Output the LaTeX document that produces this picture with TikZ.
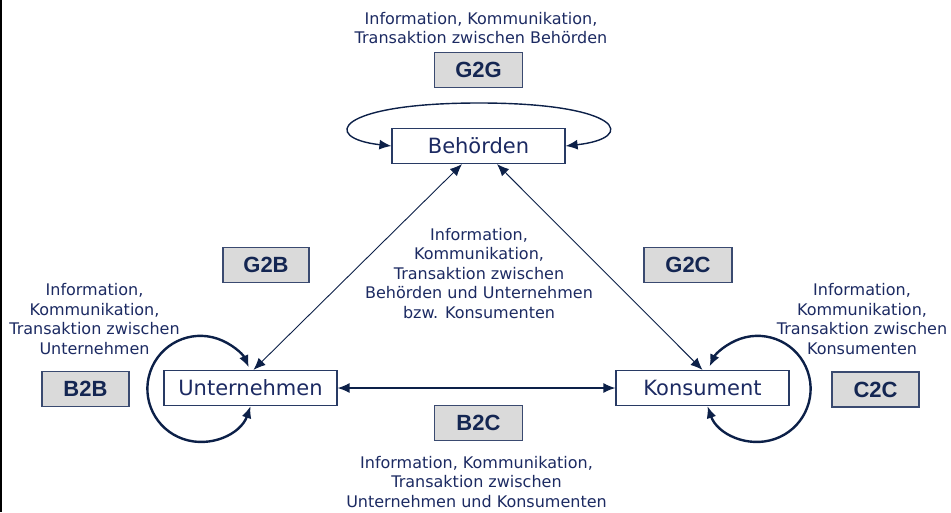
\documentclass[tikz,border=0pt]{standalone}
\usepackage{fontspec}
\setmainfont{DejaVu Sans}
\newfontfamily\labelfont{Liberation Sans}
\usetikzlibrary{arrows.meta}
\definecolor{txtnavy}{RGB}{28,42,98}
\definecolor{arrnavy}{RGB}{12,32,72}
\definecolor{boxedge}{RGB}{40,58,100}
\definecolor{lblfill}{RGB}{218,218,218}
\definecolor{lbledge}{RGB}{58,74,112}
\definecolor{lbltext}{RGB}{20,38,82}
\tikzset{
  entity/.style={draw=boxedge, line width=1.2pt, fill=white, minimum width=173pt, minimum height=35pt, inner sep=0pt, text=txtnavy, font=\fontsize{21}{24}\selectfont},
  tag/.style={draw=lbledge, line width=1.4pt, fill=lblfill, minimum width=88pt, minimum height=35pt, inner sep=0pt, text=lbltext, font=\labelfont\bfseries\fontsize{22}{24}\selectfont},
  note/.style={align=center, inner sep=0pt, text=txtnavy, font=\fontsize{16}{19.5}\selectfont},
  tip/.style={-{Latex[length=12pt,width=10pt]}},
  dtip/.style={{Latex[length=12pt,width=10pt]}-{Latex[length=12pt,width=10pt]}},
}
\begin{document}
\begin{tikzpicture}[x=1pt,y=-1pt]
\useasboundingbox (0,0) rectangle (951,512);
\draw[black, line width=2pt] (1,0) -- (1,512);

% entities
\node[entity] (beh) at (478.5,146) {Behörden};
\node[entity] (unt) at (250.5,388) {Unternehmen};
\node[entity] (kon) at (702.5,388) {Konsument};

% tags
\node[tag] (g2g) at (478.5,70) {G2G};
\node[tag, minimum width=86pt] (g2b) at (266,265) {G2B};
\node[tag] (g2c) at (688,265) {G2C};
\node[tag, minimum width=87pt] (b2b) at (85.5,389) {B2B};
\node[tag, minimum width=87pt] (c2c) at (875.5,389.5) {C2C};
\node[tag] (b2c) at (478.5,423) {B2C};

% notes
\node[note] (ng2g) at (481,28) {Information, Kommunikation,\\Transaktion zwischen Behörden};
\node[note] (nmid) at (479,273.5) {Information,\\Kommunikation,\\Transaktion zwischen\\Behörden und Unternehmen\\bzw. Konsumenten};
\node[note] (nb2b) at (94.5,319) {Information,\\Kommunikation,\\Transaktion zwischen\\Unternehmen};
\node[note] (nc2c) at (862,319) {Information,\\Kommunikation,\\Transaktion zwischen\\Konsumenten};
\node[note] (nb2c) at (476.5,482) {Information, Kommunikation,\\Transaktion zwischen\\Unternehmen und Konsumenten};

% connectors
\draw[arrnavy, line width=0.9pt, dtip] ([xshift=3pt]unt.north) -- ([xshift=-16.5pt]beh.south);
\draw[arrnavy, line width=0.9pt, dtip] ([xshift=18.5pt]beh.south) -- (kon.north);
\draw[arrnavy, line width=1.4pt, dtip] (unt.east) -- (kon.west);

% loops
\draw[arrnavy, line width=1.4pt, dtip] (beh.west) .. controls (320,138) and (335,103) .. (479,103)
  .. controls (623,103) and (638,138) .. (beh.east);
\draw[arrnavy, line width=2.4pt, dtip] (unt.south) arc[start angle=19, end angle=336, radius=53];
\draw[arrnavy, line width=2.4pt, dtip] ([xshift=5pt]kon.south) arc[start angle=161, end angle=-155, radius=53];
\end{tikzpicture}
\end{document}
